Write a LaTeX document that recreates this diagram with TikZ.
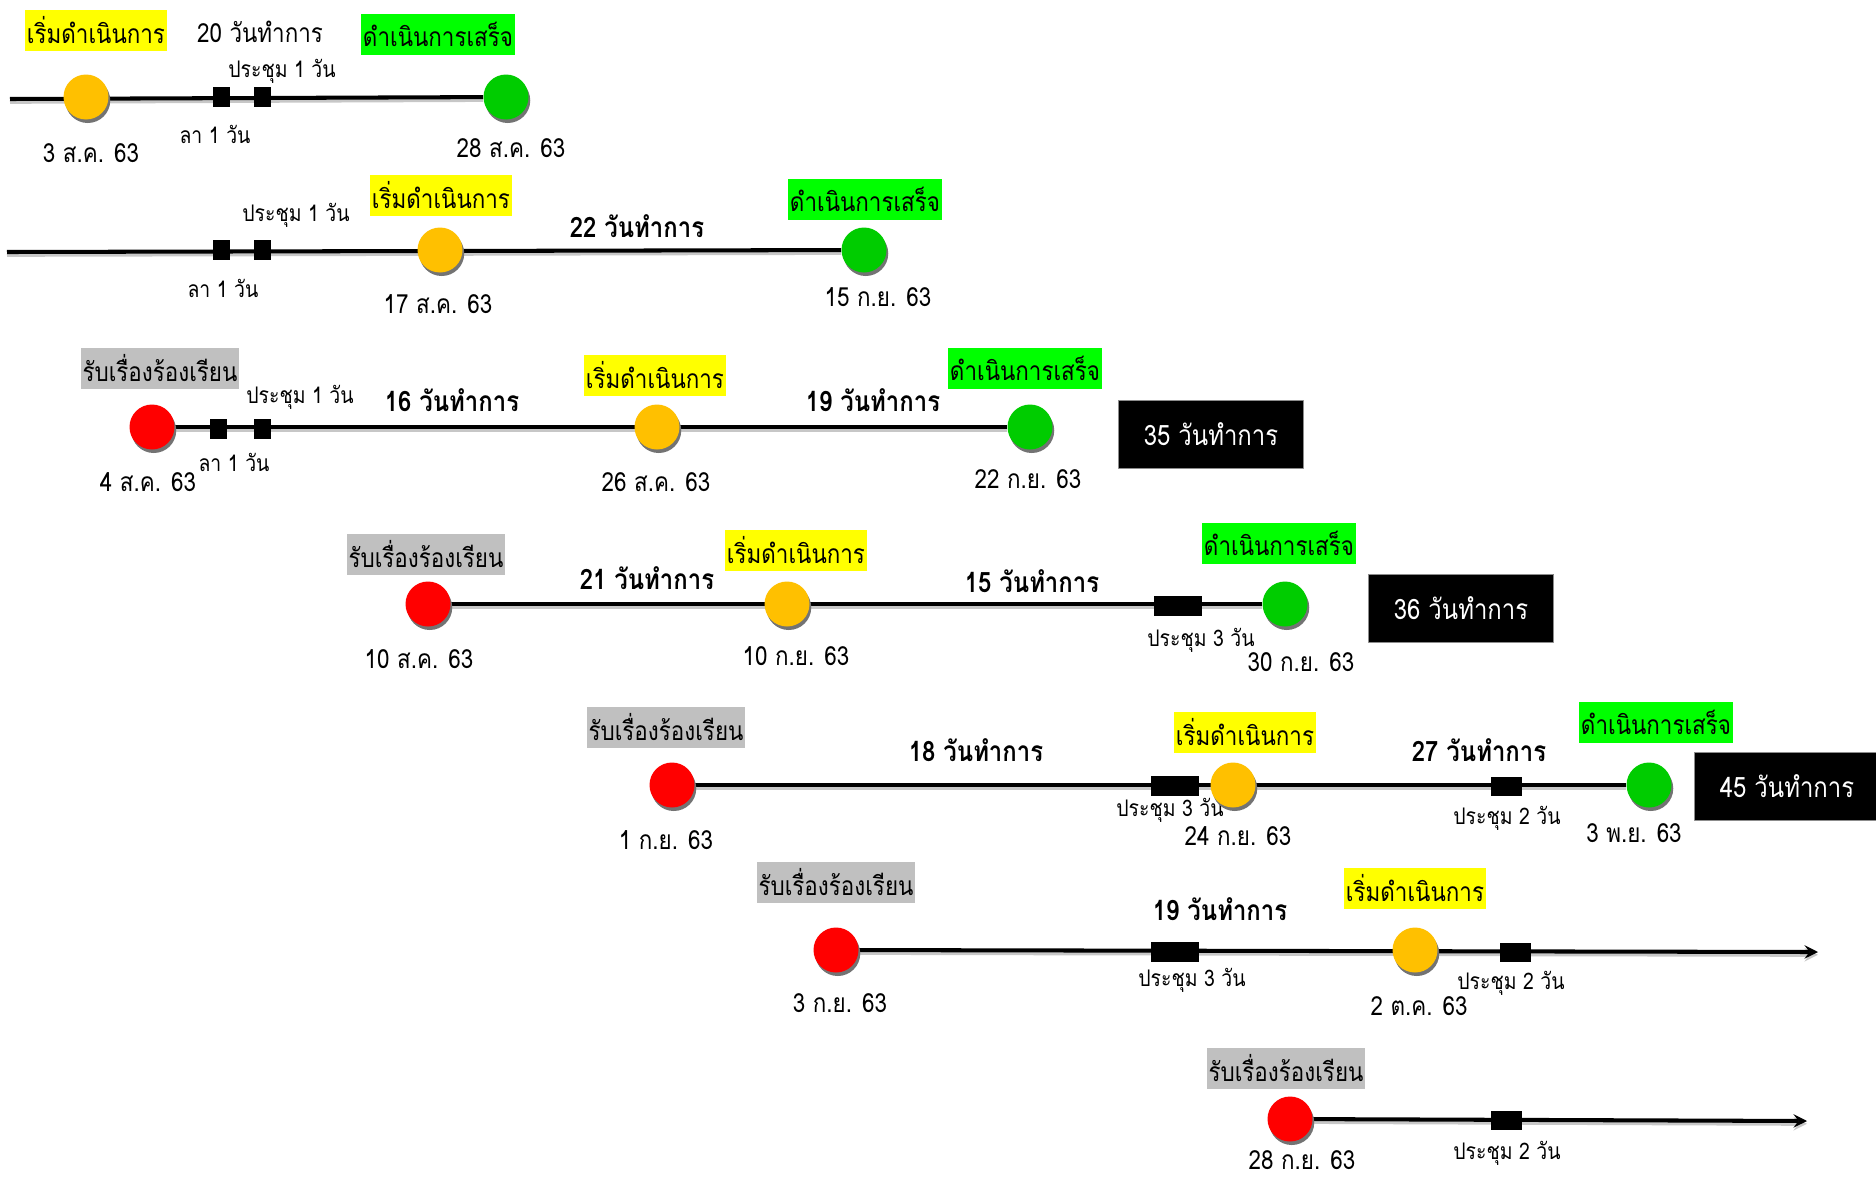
\documentclass[tikz,border=0pt]{standalone}
\usepackage{fontspec}
\setmainfont[Script=Thai,FakeStretch=0.85]{Loma}
\usetikzlibrary{shadows,backgrounds}
\definecolor{dotRed}{HTML}{FF0000}
\definecolor{dotOrange}{HTML}{FFC000}
\definecolor{dotGreen}{HTML}{00CC00}
\definecolor{tagYellow}{HTML}{FFFF00}
\definecolor{tagGreen}{HTML}{00FF00}
\definecolor{tagGray}{HTML}{C0C0C0}
\begin{document}
\begin{tikzpicture}[x=0.02cm,y=-0.02cm,line join=round,>=stealth,
	dot/.style={circle,minimum size=0.9cm,inner sep=0pt,drop shadow={shadow xshift=1pt,shadow yshift=-2pt,fill=black!55,opacity=1}},
	red dot/.style={dot,fill=dotRed},
	orange dot/.style={dot,fill=dotOrange},
	green dot/.style={dot,fill=dotGreen},
	sq/.style={fill=black,minimum width=0.34cm,minimum height=0.4cm,inner sep=0pt},
	mid sq/.style={sq,minimum width=0.62cm,minimum height=0.38cm},
	long sq/.style={sq,minimum width=0.95cm},
	tag/.style={inner xsep=1pt,inner ysep=0pt,minimum height=0.82cm,font=\fontsize{15}{17}\selectfont},
	plain/.style={inner sep=0pt,font=\fontsize{15}{17}\selectfont},
	days/.style={inner sep=0pt,font=\fontsize{16}{18}\selectfont\bfseries},
	small/.style={inner sep=0pt,font=\fontsize{13}{15}\selectfont},
	total/.style={fill=black,draw=black!45,text=white,minimum width=3.7cm,minimum height=1.36cm,font=\fontsize{16}{18}\selectfont},
	track/.style={line width=2.3pt,preaction={draw=black!22,line width=2.3pt,transform canvas={yshift=-1.6pt}}}]
\useasboundingbox (0,0) rectangle (1876,1177);
%
\path
(10,99) coordinate (s1)
(7,252) coordinate (s2)
(1818,952) coordinate (e6)
(1807,1121) coordinate (e7)
;
% row 1
\node[tag,fill=tagYellow] (t1s) at (96,30) {เริ่มดำเนินการ};
\node[plain] (n1) at (260,32) {20 วันทำการ};
\node[tag,fill=tagGreen] (t1e) at (438,34) {ดำเนินการเสร็จ};
\node[orange dot] (o1) at (86,97) {};
\node[green dot] (g1) at (506,97) {};
\node[small] (m1) at (282,71) {ประชุม 1 วัน};
\node[small] (l1) at (215,134) {ลา 1 วัน};
\node[plain] (a1) at (91,153) {3 ส.ค. 63};
\node[plain] (b1) at (511,148) {28 ส.ค. 63};
% row 2
\node[small] (m2) at (296,215) {ประชุม 1 วัน};
\node[small] (l2) at (223,288) {ลา 1 วัน};
\node[tag,fill=tagYellow] (t2s) at (441,195) {เริ่มดำเนินการ};
\node[orange dot] (o2) at (440,250) {};
\node[plain] (a2) at (438,304) {17 ส.ค. 63};
\node[days] (n2) at (637,226) {22 วันทำการ};
\node[tag,fill=tagGreen] (t2e) at (865,199) {ดำเนินการเสร็จ};
\node[green dot] (g2) at (864,250) {};
\node[plain] (b2) at (878,297) {15 ก.ย. 63};
% row 3
\node[tag,fill=tagGray] (t3r) at (160,368) {รับเรื่องร้องเรียน};
\node[red dot] (r3) at (152,427) {};
\node[small] (m3) at (300,397) {ประชุม 1 วัน};
\node[small] (l3) at (234,462) {ลา 1 วัน};
\node[plain] (a3) at (148,482) {4 ส.ค. 63};
\node[days] (n3a) at (452,400) {16 วันทำการ};
\node[tag,fill=tagYellow] (t3s) at (655,375) {เริ่มดำเนินการ};
\node[orange dot] (o3) at (657,427) {};
\node[plain] (c3) at (656,482) {26 ส.ค. 63};
\node[days] (n3b) at (873,400) {19 วันทำการ};
\node[tag,fill=tagGreen] (t3e) at (1025,368) {ดำเนินการเสร็จ};
\node[green dot] (g3) at (1030,427) {};
\node[plain] (b3) at (1028,479) {22 ก.ย. 63};
\node[total] (sum3) at (1211,434) {35 วันทำการ};
% row 4
\node[tag,fill=tagGray] (t4r) at (426,554) {รับเรื่องร้องเรียน};
\node[red dot] (r4) at (428,604) {};
\node[plain] (a4) at (419,659) {10 ส.ค. 63};
\node[days] (n4a) at (647,578) {21 วันทำการ};
\node[tag,fill=tagYellow] (t4s) at (796,550) {เริ่มดำเนินการ};
\node[orange dot] (o4) at (787,604) {};
\node[plain] (c4) at (796,656) {10 ก.ย. 63};
\node[days] (n4b) at (1032,581) {15 วันทำการ};
\node[small] (m4) at (1201,640) {ประชุม 3 วัน};
\node[tag,fill=tagGreen] (t4e) at (1279,543) {ดำเนินการเสร็จ};
\node[green dot] (g4) at (1285,604) {};
\node[plain] (b4) at (1301,662) {30 ก.ย. 63};
\node[total] (sum4) at (1461,608) {36 วันทำการ};
% row 5
\node[tag,fill=tagGray] (t5r) at (666,727) {รับเรื่องร้องเรียน};
\node[red dot] (r5) at (672,785) {};
\node[plain] (a5) at (666,840) {1 ก.ย. 63};
\node[days] (n5a) at (976,750) {18 วันทำการ};
\node[small] (m5a) at (1170,810) {ประชุม 3 วัน};
\node[tag,fill=tagYellow] (t5s) at (1245,732) {เริ่มดำเนินการ};
\node[plain] (c5) at (1238,836) {24 ก.ย. 63};
\node[days] (n5b) at (1479,750) {27 วันทำการ};
\node[small] (m5b) at (1507,818) {ประชุม 2 วัน};
\node[tag,fill=tagGreen] (t5e) at (1656,722) {ดำเนินการเสร็จ};
\node[green dot] (g5) at (1649,785) {};
\node[plain] (b5) at (1634,833) {3 พ.ย. 63};
\node[total] (sum5) at (1787,786) {45 วันทำการ};
% row 6
\node[tag,fill=tagGray] (t6r) at (836,882) {รับเรื่องร้องเรียน};
\node[red dot] (r6) at (836,950) {};
\node[plain] (a6) at (840,1003) {3 ก.ย. 63};
\node[days] (n6) at (1220,909) {19 วันทำการ};
\node[small] (m6a) at (1192,980) {ประชุม 3 วัน};
\node[tag,fill=tagYellow] (t6s) at (1415,888) {เริ่มดำเนินการ};
\node[plain] (c6) at (1419,1006) {2 ต.ค. 63};
\node[small] (m6b) at (1511,983) {ประชุม 2 วัน};
% row 7
\node[tag,fill=tagGray] (t7r) at (1286,1068) {รับเรื่องร้องเรียน};
\node[red dot] (r7) at (1290,1119) {};
\node[plain] (a7) at (1302,1160) {28 ก.ย. 63};
\node[small] (m7) at (1507,1153) {ประชุม 2 วัน};
% marks on the lines
\foreach \n/\x/\y in {q1a/221/97,q1b/262/97,q2a/221/250,q2b/262/250,q3a/218/429,q3b/262/429}
	\node[sq] (\n) at (\x,\y) {};
\foreach \n/\x/\y in {q5b/1506/786,q6b/1515/952,q7/1506/1120}
	\node[mid sq] (\n) at (\x,\y) {};
\foreach \n/\x/\y in {q4/1178/606,q5a/1175/786,q6a/1175/952}
	\node[long sq] (\n) at (\x,\y) {};
\node[orange dot] (o5) at (1233,785) {};
\node[orange dot] (o6) at (1415,950) {};
%
\begin{scope}[on background layer]
\draw[track] (s1) -- (g1);
\draw[track] (s2) -- (g2);
\draw[track] (r3) -- (g3);
\draw[track] (r4) -- (g4);
\draw[track] (r5) -- (g5);
\draw[track,->] (r6) -- (e6);
\draw[track,->] (r7) -- (e7);
\end{scope}
\end{tikzpicture}
\end{document}
